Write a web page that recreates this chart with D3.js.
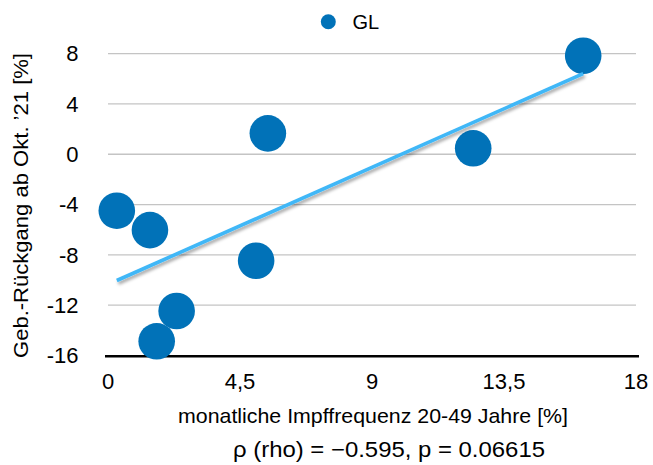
<!DOCTYPE html>
<html>
<head>
<meta charset="utf-8">
<script src="https://cdn.jsdelivr.net/npm/d3@7"></script>
<style>
  html, body { margin: 0; padding: 0; background: #fff; }
  svg { display: block; font-family: "Liberation Sans", Arial, sans-serif; }
</style>
</head>
<body>
<svg id="chart" width="653" height="465"></svg>
<script>
// ---- data ----
const seriesName = "GL";
const impfFrequenz = [0.30, 1.43, 5.45, 5.05, 2.34, 1.66, 12.45, 16.2];
const gebRueckgang = [-4.49, -6.03, 1.66, -8.47, -12.46, -14.87, 0.47, 7.83];
const xTicks = [0, 4.5, 9, 13.5, 18];
const yTicks = [-16, -12, -8, -4, 0, 4, 8];
const xTitle = "monatliche Impffrequenz 20-49 Jahre [%]";
const yTitle = "Geb.-Rückgang ab Okt. ’21 [%]";
const statText = "ρ (rho) = −0.595, p = 0.06615";

// ---- layout ----
const svg = d3.select("#chart");
const x = d3.scaleLinear().domain([0, 18]).range([108, 636]);
const y = d3.scaleLinear().domain([-16, 8]).range([355.5, 53.6]);
const fmt = d => String(d).replace(".", ",");

const defs = svg.append("defs");
const f = defs.append("filter").attr("id", "shadow")
  .attr("x", "-10%").attr("y", "-10%").attr("width", "130%").attr("height", "150%");
f.append("feDropShadow").attr("dx", 1.5).attr("dy", 2.5).attr("stdDeviation", 1.5)
  .attr("flood-color", "#000").attr("flood-opacity", 0.35);

// gridlines
svg.append("g").selectAll("line").data(yTicks.filter(d => d !== -16)).join("line")
  .attr("x1", x(0)).attr("x2", x(18))
  .attr("y1", d => y(d)).attr("y2", d => y(d))
  .attr("stroke", "#c4c4c4").attr("stroke-width", 1.3);

// baseline axis
svg.append("line")
  .attr("x1", x(0) - 3).attr("x2", x(18) + 3)
  .attr("y1", y(-16) + 0.8).attr("y2", y(-16) + 0.8)
  .attr("stroke", "#000").attr("stroke-width", 2.6);

// y tick labels
svg.append("g").selectAll("text").data(yTicks).join("text")
  .attr("x", 78.5).attr("y", d => y(d) + 7.8)
  .attr("text-anchor", "end").attr("font-size", 22).attr("fill", "#000")
  .text(d => d);

// x tick labels
svg.append("g").selectAll("text").data(xTicks).join("text")
  .attr("x", d => x(d)).attr("y", 388.5)
  .attr("text-anchor", "middle").attr("font-size", 22).attr("fill", "#000")
  .text(fmt);

// points
const pts = impfFrequenz.map((v, i) => ({ x: v, y: gebRueckgang[i] }));
svg.append("g").selectAll("circle").data(pts).join("circle")
  .attr("cx", d => x(d.x)).attr("cy", d => y(d.y)).attr("r", 18.3)
  .attr("fill", "#0172b8");

// linear trend line (least squares from data)
const mx = d3.mean(impfFrequenz), my = d3.mean(gebRueckgang);
const sxy = d3.sum(pts, d => (d.x - mx) * (d.y - my));
const sxx = d3.sum(pts, d => (d.x - mx) ** 2);
const slope = sxy / sxx, icpt = my - slope * mx;
const x0 = d3.min(impfFrequenz), x1 = d3.max(impfFrequenz);
svg.append("line")
  .attr("x1", x(x0)).attr("y1", y(icpt + slope * x0))
  .attr("x2", x(x1)).attr("y2", y(icpt + slope * x1))
  .attr("stroke", "#3fb7f7").attr("stroke-width", 3.6)
  .attr("filter", "url(#shadow)");

// legend
svg.append("circle").attr("cx", 328.3).attr("cy", 21.7).attr("r", 7.5).attr("fill", "#0172b8");
svg.append("text").attr("x", 352.5).attr("y", 29).attr("font-size", 20).attr("fill", "#000").text(seriesName);

// axis titles
svg.append("text").attr("x", 373).attr("y", 423).attr("text-anchor", "middle")
  .attr("font-size", 21).attr("fill", "#000")
  .attr("textLength", 390).attr("lengthAdjust", "spacingAndGlyphs").text(xTitle);
svg.append("text").attr("transform", "translate(28,205.5) rotate(-90)")
  .attr("text-anchor", "middle").attr("font-size", 21).attr("fill", "#000")
  .attr("textLength", 305).attr("lengthAdjust", "spacingAndGlyphs").text(yTitle);

// statistics text
svg.append("text").attr("x", 389).attr("y", 456.5).attr("text-anchor", "middle")
  .attr("font-size", 22.5).attr("fill", "#000")
  .attr("textLength", 312).attr("lengthAdjust", "spacingAndGlyphs").text(statText);
</script>
</body>
</html>
